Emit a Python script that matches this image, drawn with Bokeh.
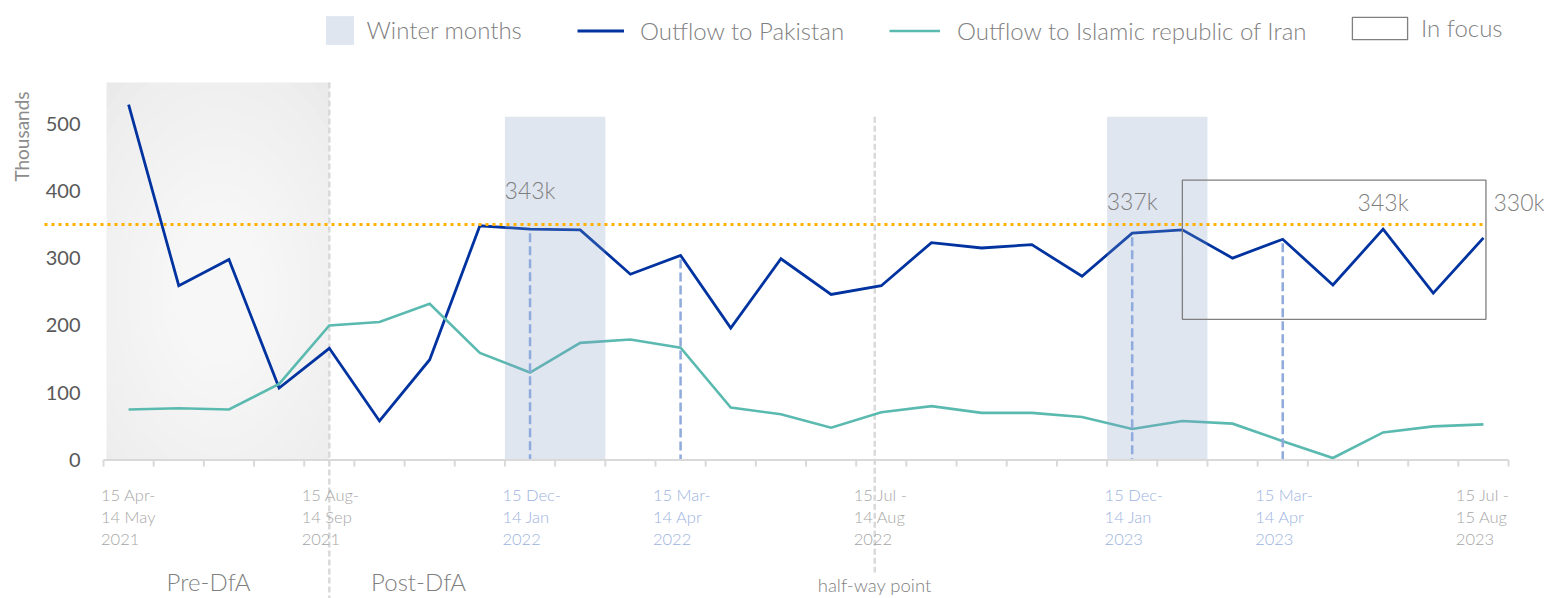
import math
from bokeh.plotting import figure
from bokeh.models import Range1d, ColumnDataSource, Legend, LegendItem
from bokeh.embed import file_html
from bokeh.resources import INLINE
from bokeh.core.properties import value

# ---------------- data ----------------
months = ["Apr 2021", "May 2021", "Jun 2021", "Jul 2021", "Aug 2021", "Sep 2021",
          "Oct 2021", "Nov 2021", "Dec 2021", "Jan 2022", "Feb 2022", "Mar 2022",
          "Apr 2022", "May 2022", "Jun 2022", "Jul 2022", "Aug 2022", "Sep 2022",
          "Oct 2022", "Nov 2022", "Dec 2022", "Jan 2023", "Feb 2023", "Mar 2023",
          "Apr 2023", "May 2023", "Jun 2023", "Jul 2023"]
pakistan = [528, 259, 298, 107, 166, 58, 149, 348, 343, 342, 276, 304, 196, 299,
            246, 259, 323, 315, 320, 273, 337, 342, 300, 328, 260, 343, 248, 330]
iran = [75, 77, 75, 113, 200, 205, 232, 159, 130, 174, 179, 167, 78, 68,
        48, 71, 80, 70, 70, 64, 46, 58, 54, 28, 3, 41, 50, 53]

y_ticks = [0, 100, 200, 300, 400, 500]
tick_pos = [0, 4, 8, 11, 15, 20, 23, 27]
tick_labels = ["15 Apr-\n14 May\n2021", "15 Aug-\n14  Sep\n2021",
               "15 Dec-\n14 Jan\n2022", "15 Mar-\n14 Apr\n2022",
               "15 Jul -\n14 Aug\n2022", "15 Dec-\n14 Jan\n2023",
               "15 Mar-\n14 Apr\n2023", "15 Jul -\n15 Aug\n2023"]
tick_highlight = [False, False, True, True, False, True, True, False]

winter_first = [8, 20]          # Dec + Jan periods
marker_idx = [8, 11, 20, 23]    # dashed markers
annot_idx = [8, 20, 25, 27]
annot_text = ["343k", "337k", "343k", "330k"]
threshold = 350
focus_first, focus_last = 21, 27
focus_low, focus_high = 209, 416
dfa_boundary = 4.5
halfway = 15.37
pre_dfa_top = 561
winter_top = 510

# ---------------- layout helpers ----------------
W, H = 1544, 598
ORIGIN = 0
AX_LEFT_PX, PX_PER_CAT = 103.0, 50.18
ZERO_PX, PX_PER_UNIT = 459.5, 0.673


def xd(px):
    return (px - AX_LEFT_PX) / PX_PER_CAT


def yd(py):
    return (ZERO_PX - py) / PX_PER_UNIT


FONT = value("'Lato Light', Lato, sans-serif")
FONT_R = value("Lato")
GREY_TXT = "#7F7F7F"

p = figure(width=W, height=H, output_backend="svg", toolbar_location=None,
           x_range=Range1d(xd(ORIGIN), xd(ORIGIN + W)),
           y_range=Range1d(yd(ORIGIN + H), yd(ORIGIN)),
           x_axis_type=None, y_axis_type=None, min_border=0,
           outline_line_color=None, background_fill_color="white",
           border_fill_color="white")

n = len(months)
xc = [i + 0.5 for i in range(n)]

# Pre-DfA shaded region with a soft radial highlight
p.quad(left=[0.06], right=[dfa_boundary], bottom=[0], top=[pre_dfa_top],
       fill_color="#EAEAEA", line_color=None)
cx, cy = 2.3, 250
for k in range(14):
    f = 1 - k / 14
    p.ellipse(x=[cx], y=[cy], width=[6.4 * f], height=[760 * f],
              fill_color="white", fill_alpha=0.11, line_color=None)

# vertical grey dashed lines
p.segment(x0=[dfa_boundary], y0=[pre_dfa_top], x1=[dfa_boundary], y1=[yd(600)],
          line_color="#D9D9D9", line_width=2.5, line_dash="6 3")
p.segment(x0=[halfway], y0=[winter_top], x1=[halfway], y1=[yd(572)],
          line_color="#D9D9D9", line_width=2.5, line_dash="6 3")

# series
pak_r = p.line(xc, pakistan, line_color="#0033A0", line_width=2.8, line_join="miter")
iran_r = p.line(xc, iran, line_color="#5BBAB0", line_width=2.6, line_join="miter")

# winter months shading (translucent, over the lines)
win_r = p.quad(left=winter_first, right=[w + 2 for w in winter_first],
               bottom=[0, 0], top=[winter_top, winter_top],
               fill_color="#7F9BC3", fill_alpha=0.25, line_color=None)

# dashed markers down from the Pakistan line
p.segment(x0=[xc[i] for i in marker_idx], y0=[pakistan[i] - 6 for i in marker_idx],
          x1=[xc[i] for i in marker_idx], y1=[0] * len(marker_idx),
          line_color="#8FAADC", line_width=2.5, line_dash="9 4")

# threshold line
p.segment(x0=[xd(44)], y0=[threshold], x1=[focus_last + 0.55], y1=[threshold],
          line_color="#FFB000", line_width=3, line_dash="3 4")

# focus box
focus_r = p.quad(left=[focus_first + 0.5], right=[focus_last + 0.55],
                 bottom=[focus_low], top=[focus_high],
                 fill_color=None, line_color="#7F7F7F", line_width=1.3)

# value annotations
ann_y = [401, 385, 384, 384]
ann_align = ["center", "center", "center", "left"]
ann_dx = [0, 0, 0, 0.2]
p.text(x=[xc[i] + d for i, d in zip(annot_idx, ann_dx)], y=ann_y, text=annot_text,
       text_align=ann_align, text_baseline="middle", text_font=FONT,
       text_font_size="23px", text_color=GREY_TXT)

# x axis line + ticks
p.segment(x0=[0], y0=[0], x1=[n], y1=[0], line_color="#D9D9D9", line_width=2)
p.segment(x0=list(range(n + 1)), y0=[0] * (n + 1), x1=list(range(n + 1)),
          y1=[yd(466)] * (n + 1), line_color="#D9D9D9", line_width=2)

tick_src = ColumnDataSource(dict(
    x=[t - 0.05 for t in tick_pos], text=tick_labels,
    color=["#9DB3E0" if h else "#A6A6A6" for h in tick_highlight]))
p.text(x="x", y=yd(484), text="text", source=tick_src, text_color="color",
       text_align="left", text_baseline="top", text_font=FONT,
       text_font_size="16.5px", text_line_height=1.12)

# y tick labels and title
p.text(x=[xd(80)] * len(y_ticks), y=y_ticks, text=[str(v) for v in y_ticks],
       text_align="right", text_baseline="middle", text_font=FONT_R,
       text_font_size="20px", text_color="#595959")
p.text(x=[xd(21)], y=[yd(136)], text=["Thousands"], angle=math.pi / 2,
       text_align="center", text_baseline="middle", text_font=FONT_R,
       text_font_size="19px", text_color="#8C8C8C")

# period annotations
p.text(x=[xd(208), xd(418)], y=[yd(581), yd(581)], text=["Pre-DfA", "Post-DfA"],
       text_align="center", text_baseline="middle", text_font=FONT,
       text_font_size="24px", text_color=GREY_TXT)
p.text(x=[halfway], y=[yd(584)], text=["half-way point"], text_align="center",
       text_baseline="middle", text_font=FONT, text_font_size="18.5px",
       text_color=GREY_TXT)


# legends (one per item so each glyph can have its own size)
def add_legend(label, renderer, x_px, top_px, gw, gh, standoff):
    leg = Legend(items=[LegendItem(label=label, renderers=[renderer])],
                 location=(x_px - ORIGIN, H - (top_px - ORIGIN) - gh),
                 orientation="horizontal", glyph_width=gw, glyph_height=gh,
                 label_height=gh, label_standoff=standoff, padding=0, margin=0,
                 spacing=0, border_line_color=None, background_fill_alpha=0,
                 label_text_font="'Lato Light', Lato, sans-serif",
                 label_text_font_size="24px", label_text_color=GREY_TXT)
    p.add_layout(leg)


# area glyphs in legends are inset by 10% on each side
add_legend("Winter months", win_r, 321.5, 11.5, 35, 36, 10)
add_legend("Outflow to Pakistan", pak_r, 577, 16, 47, 29, 16)
add_legend("Outflow to Islamic republic of Iran", iran_r, 889, 16, 51, 29, 17)
add_legend("In focus", focus_r, 1345, 14, 69, 28, 7)

open("out.html", "w").write(file_html(p, INLINE))
